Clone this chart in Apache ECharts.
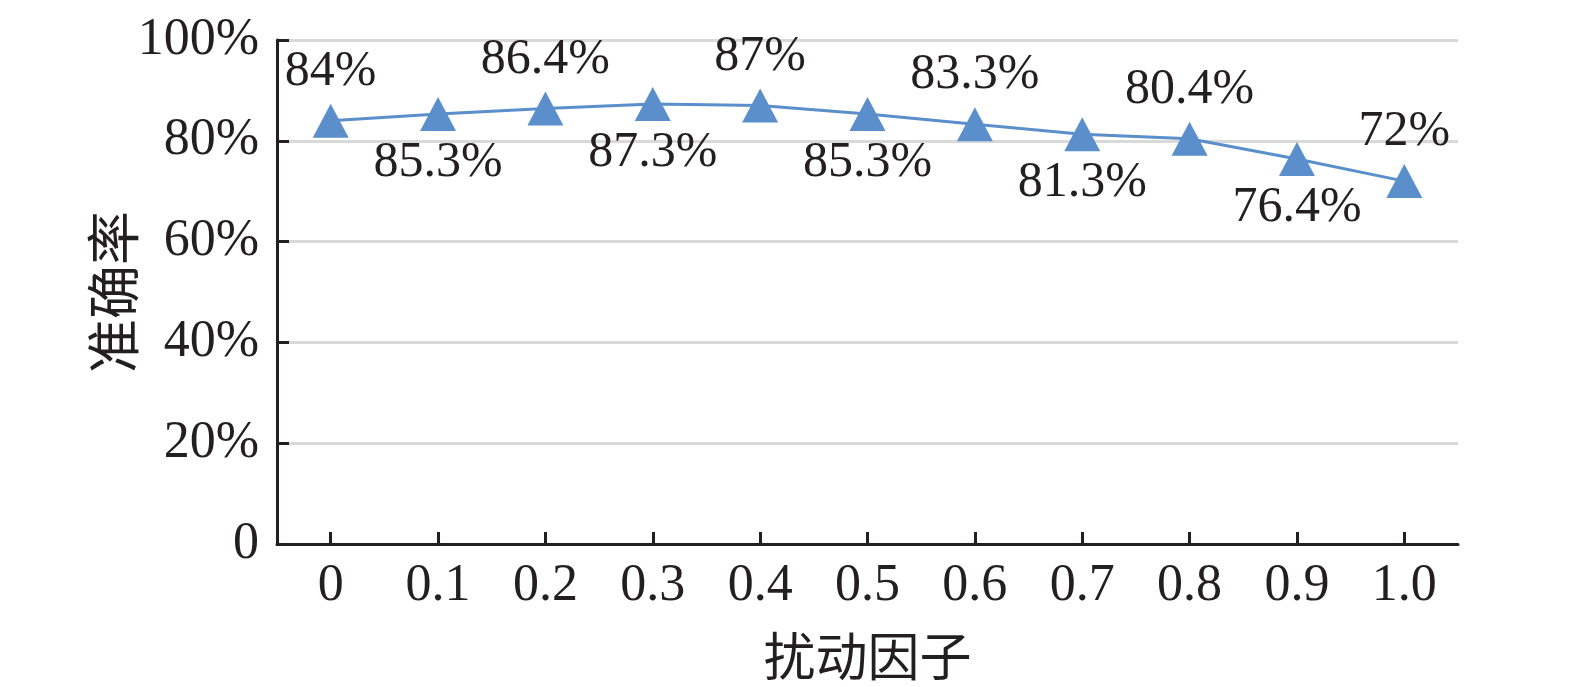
<!DOCTYPE html>
<html>
<head>
<meta charset="utf-8">
<script src="https://cdn.jsdelivr.net/npm/echarts@6/dist/echarts.min.js"></script>
<style>html,body{margin:0;padding:0;background:#fff}#c{width:1575px;height:687px}</style>
</head>
<body>
<div id="c"></div>
<script>
const categories = ['0', '0.1', '0.2', '0.3', '0.4', '0.5', '0.6', '0.7', '0.8', '0.9', '1.0'];
const accuracy = [84, 85.3, 86.4, 87.3, 87, 85.3, 83.3, 81.3, 80.4, 76.4, 72];
const yTicks = [0, 20, 40, 60, 80, 100];
const xName = '扰动因子';
const yName = '准确率';

const serif = '"Liberation Serif", "Times New Roman", serif';
const cjk = '"Noto Sans CJK SC", sans-serif';
const ink = '#231f20';
const blue = '#5b8fcb';

const chart = echarts.init(document.getElementById('c'), null, {renderer: 'canvas'});
chart.setOption({
  animation: false,
  backgroundColor: '#fff',
  grid: {left: 277, right: 117, top: 40, bottom: 143, containLabel: false},
  xAxis: {
    type: 'category',
    data: categories,
    boundaryGap: true,
    name: xName,
    nameLocation: 'middle',
    nameGap: 86,
    nameMoveOverlap: false,
    nameTextStyle: {fontFamily: cjk, fontSize: 52, color: ink},
    axisLine: {show: true, lineStyle: {color: ink, width: 3}},
    axisTick: {show: true, inside: true, alignWithLabel: true, length: 12, lineStyle: {color: ink, width: 3}},
    axisLabel: {fontFamily: serif, fontSize: 52, color: ink, margin: 16},
    splitLine: {show: false}
  },
  yAxis: {
    type: 'value',
    min: yTicks[0],
    max: yTicks[yTicks.length - 1],
    interval: 20,
    name: yName,
    nameLocation: 'middle',
    nameRotate: 90,
    nameGap: 137,
    nameMoveOverlap: false,
    nameTextStyle: {fontFamily: cjk, fontSize: 54, color: ink},
    axisLine: {show: true, lineStyle: {color: ink, width: 3}},
    axisTick: {show: true, inside: true, length: 12, lineStyle: {color: ink, width: 3}},
    axisLabel: {
      fontFamily: serif, fontSize: 52, color: ink, margin: 18,
      formatter: v => (v === 0 ? '0' : v + '%')
    },
    splitLine: {show: true, lineStyle: {color: '#d9d9d9', width: 3}}
  },
  series: [{
    type: 'line',
    data: accuracy.map((v, i) => ({
      value: v,
      label: {position: i % 2 === 0 ? 'top' : 'bottom'}
    })),
    symbol: 'triangle',
    symbolSize: [36, 34],
    lineStyle: {color: blue, width: 3},
    itemStyle: {color: blue, borderColor: blue, borderWidth: 0},
    label: {
      show: true,
      distance: 7,
      fontFamily: serif,
      fontSize: 50,
      color: ink,
      formatter: p => p.value + '%'
    }
  }]
});
</script>
</body>
</html>
